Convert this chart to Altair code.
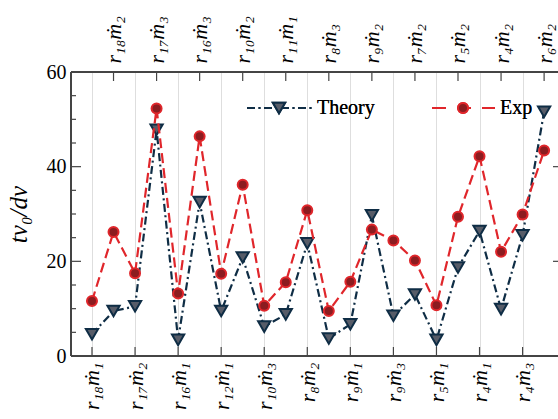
import json
import altair as alt
import pandas as pd

# ---- data ----
positions = list(range(1, 23))
labels = ["r₁₈ṁ₁", "r₁₈ṁ₂", "r₁₇ṁ₂", "r₁₇ṁ₃", "r₁₆ṁ₁", "r₁₆ṁ₃", "r₁₂ṁ₁", "r₁₀ṁ₂",
          "r₁₀ṁ₃", "r₁₁ṁ₁", "r₈ṁ₂", "r₈ṁ₃", "r₉ṁ₁", "r₉ṁ₂", "r₉ṁ₃", "r₇ṁ₂",
          "r₅ṁ₁", "r₅ṁ₂", "r₄ṁ₁", "r₄ṁ₂", "r₄ṁ₃", "r₆ṁ₂"]
theory = [4.6, 9.5, 10.5, 47.8, 3.4, 32.5, 9.5, 20.8, 6.2, 8.8, 23.8,
          3.7, 6.7, 29.7, 8.5, 13.0, 3.4, 18.7, 26.4, 9.9, 25.5, 51.6]
exp = [11.6, 26.2, 17.5, 52.3, 13.2, 46.4, 17.4, 36.2, 10.6, 15.6, 30.8,
       9.5, 15.7, 26.7, 24.4, 20.2, 10.7, 29.4, 42.2, 22.0, 29.9, 43.4]
y_major = [0, 20, 40, 60]
y_minor = [5, 10, 15, 25, 30, 35, 45, 50, 55]
bottom_pos = positions[0::2]
top_pos = positions[1::2]

W, H = 487, 284
SERIF = "Liberation Serif"
NAVY = "#0f2d45"
TRI_FILL = "#575c68"
RED = "#e0262b"
CIRC_FILL = "#8c1c20"
FRAME = "#444444"

df = pd.DataFrame({"pos": positions, "theory": theory, "exp": exp})
bot_df = pd.DataFrame({"pos": bottom_pos})
top_df = pd.DataFrame({"pos": top_pos})
maj_df = pd.DataFrame({"v": y_major})
min_df = pd.DataFrame({"v": y_minor})

xscale = alt.Scale(domain=[0.025, 22.645], nice=False, zero=False)
yscale = alt.Scale(domain=[0, 60], nice=False)
label_js = json.dumps(labels, ensure_ascii=False)
lab_expr = f"{label_js}[datum.value - 1]"


def X(field="pos", axis=None):
    return alt.X(f"{field}:Q", scale=xscale, axis=axis)


def Y(field, axis=None):
    return alt.Y(f"{field}:Q", scale=yscale, axis=axis)


bottom_axis = alt.Axis(orient="bottom", values=bottom_pos, labelExpr=lab_expr,
                       labelAngle=270, labelFont=SERIF, labelFontStyle="italic",
                       labelFontSize=22, labelColor="black", labelPadding=6,
                       ticks=False, domain=False, grid=True, gridColor="#dedede",
                       gridWidth=1, title=None, labelFlush=False, labelOverlap=False)
top_axis = alt.Axis(orient="top", values=top_pos, labelExpr=lab_expr,
                    labelAngle=270, labelFont=SERIF, labelFontStyle="italic",
                    labelFontSize=22, labelColor="black", labelPadding=9,
                    ticks=False, domain=False, grid=False, title=None,
                    labelFlush=False, labelOverlap=False)
left_axis = alt.Axis(orient="left", values=y_major, labelFont=SERIF, labelFontSize=20,
                     labelColor="black", labelPadding=5, ticks=False, domain=False,
                     grid=False, title="tv₀/dv", titleFont=SERIF, titleFontStyle="italic",
                     titleFontSize=25, titleFontWeight="normal", titleColor="black",
                     titlePadding=15)

# grid + bottom axis
grid_layer = alt.Chart(bot_df).mark_rule(opacity=0).encode(
    x=X("pos", bottom_axis), y=alt.value(0), y2=alt.value(H))
top_layer = alt.Chart(top_df).mark_rule(color=FRAME, strokeWidth=1.2).encode(
    x=X("pos", top_axis), y=alt.value(0), y2=alt.value(9))
bot_ticks = alt.Chart(bot_df).mark_rule(color=FRAME, strokeWidth=1.2).encode(
    x=X("pos"), y=alt.value(H - 9), y2=alt.value(H))
left_major = alt.Chart(maj_df).mark_rule(color=FRAME, strokeWidth=1.2).encode(
    y=Y("v", left_axis), x=alt.value(0), x2=alt.value(10))
left_minor = alt.Chart(min_df).mark_rule(color=FRAME, strokeWidth=1.2).encode(
    y=Y("v"), x=alt.value(0), x2=alt.value(5))
right_major = alt.Chart(maj_df).mark_rule(color=FRAME, strokeWidth=1.2).encode(
    y=Y("v"), x=alt.value(W - 5), x2=alt.value(W))

frame_left = alt.Chart(maj_df).mark_rule(color=FRAME, strokeWidth=1.6).encode(
    x=alt.value(0), y=alt.value(0), y2=alt.value(H))
frame_top = alt.Chart(maj_df).mark_rule(color=FRAME, strokeWidth=1.6).encode(
    x=alt.value(0), x2=alt.value(W + 2), y=alt.value(0))
frame_bot = alt.Chart(maj_df).mark_rule(color=FRAME, strokeWidth=1.6).encode(
    x=alt.value(0), x2=alt.value(W + 2), y=alt.value(H))

theory_line = alt.Chart(df).mark_line(color=NAVY, strokeWidth=2.2,
                                      strokeDash=[8, 3.5, 2, 3.5]).encode(
    x=X("pos"), y=Y("theory"))
theory_pts = alt.Chart(df).mark_point(shape="triangle-down", filled=True, fill=TRI_FILL,
                                      stroke=NAVY, strokeWidth=2, size=150, opacity=1).encode(
    x=X("pos"), y=Y("theory"))
exp_line = alt.Chart(df).mark_line(color=RED, strokeWidth=2.2, strokeDash=[10, 5]).encode(
    x=X("pos"), y=Y("exp"))
exp_pts = alt.Chart(df).mark_point(shape="circle", filled=True, fill=CIRC_FILL,
                                   stroke=RED, strokeWidth=2, size=100, opacity=1).encode(
    x=X("pos"), y=Y("exp"))

# legend (drawn in plot pixels)
LY = 36
leg_df = pd.DataFrame({"name": ["Theory", "Exp"]})
leg_t_line = alt.Chart(leg_df).mark_rule(color=NAVY, strokeWidth=2.2,
                                         strokeDash=[8, 3.5, 2, 3.5]).encode(
    x=alt.value(176), x2=alt.value(241), y=alt.value(LY))
leg_t_pt = alt.Chart(leg_df).mark_point(shape="triangle-down", filled=True, fill=TRI_FILL,
                                        stroke=NAVY, strokeWidth=2, size=150, opacity=1).encode(
    x=alt.value(208), y=alt.value(LY))
leg_t_txt = alt.Chart(leg_df).mark_text(text="Theory", font=SERIF, fontSize=20, align="left",
                                        baseline="middle", color="black").encode(
    x=alt.value(246), y=alt.value(LY))
leg_e_line = alt.Chart(leg_df).mark_rule(color=RED, strokeWidth=2.2,
                                         strokeDash=[14, 11]).encode(
    x=alt.value(361), x2=alt.value(424), y=alt.value(LY))
leg_e_pt = alt.Chart(leg_df).mark_point(shape="circle", filled=True, fill=CIRC_FILL,
                                        stroke=RED, strokeWidth=2, size=100, opacity=1).encode(
    x=alt.value(392), y=alt.value(LY))
leg_e_txt = alt.Chart(leg_df).mark_text(text="Exp", font=SERIF, fontSize=20, align="left",
                                        baseline="middle", color="black").encode(
    x=alt.value(429), y=alt.value(LY))

chart = alt.layer(
    grid_layer, top_layer, left_major, left_minor, right_major, bot_ticks,
    frame_left, frame_top, frame_bot,
    theory_line, theory_pts, exp_line, exp_pts,
    leg_t_line, leg_t_pt, leg_t_txt, leg_e_line, leg_e_pt, leg_e_txt,
).resolve_axis(x="independent", y="independent").properties(
    width=W, height=H,
    autosize=alt.AutoSizeParams(type="none"),
    padding={"left": 71, "top": 72, "right": 0, "bottom": 63},
).configure_view(stroke=None).configure(background="white")

chart.save("out.html", embed_options={"renderer": "svg", "actions": False})
